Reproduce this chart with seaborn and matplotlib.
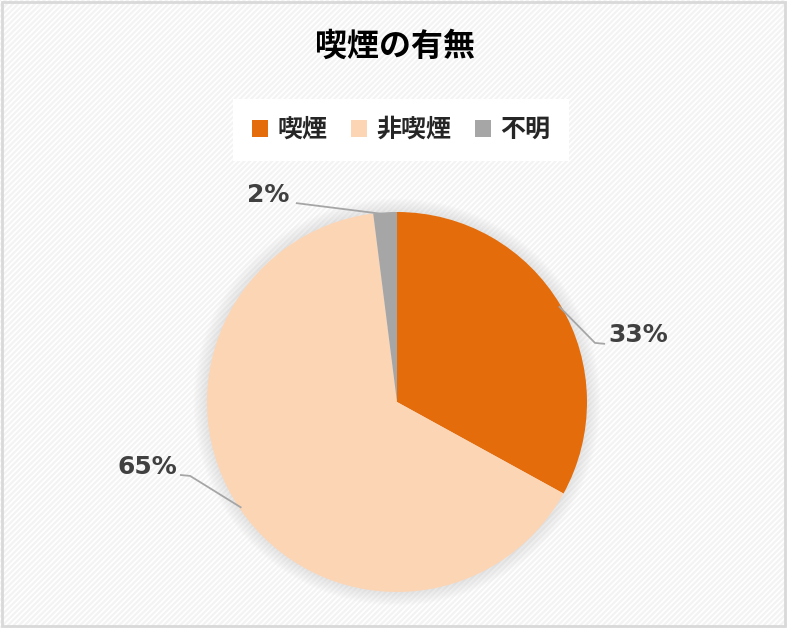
import numpy as np
import matplotlib
matplotlib.use('Agg')
import matplotlib.pyplot as plt
import matplotlib.patches as mpatches
import seaborn as sns

# dane
kategorie = ['喫煙', '非喫煙', '不明']
udzialy = [33, 65, 2]
etykiety = ['33%', '65%', '2%']
kolory = ['#E46C0A', '#FCD5B5', '#A6A6A6']
tytul = '喫煙の有無'

sns.set_theme(style='white')
plt.rcParams['font.family'] = ['Noto Sans CJK JP', 'DejaVu Sans']
plt.rcParams['hatch.linewidth'] = 1.6

W, H = 787, 628
cx, cy, r = 397, 402, 190  # środek i promień koła w pikselach

fig = plt.figure(figsize=(W / 100, H / 100), dpi=100)
fig.patch.set_facecolor('white')

# tło z ukośnym wzorem
bg = mpatches.Rectangle((0, 0), 1, 1, transform=fig.transFigure, facecolor='white',
                        edgecolor='#f3f3f3', hatch='//////', linewidth=0, zorder=-10)
fig.patches.append(bg)
ramka = mpatches.Rectangle((0.002, 0.003), 0.996, 0.994, transform=fig.transFigure,
                           facecolor='none', edgecolor='#d9d9d9', linewidth=2, zorder=10)
fig.patches.append(ramka)

ax = fig.add_axes([0, 0, 1, 1])

# miękki cień wokół koła
for i in range(10):
    ax.add_patch(mpatches.Circle((0, 0), 1.0 + 0.007 * (10 - i), facecolor='#909090',
                                 alpha=0.018, linewidth=0, zorder=0))

wedges, _ = ax.pie(udzialy, colors=kolory, startangle=90, counterclock=False,
                   radius=1, wedgeprops=dict(linewidth=0), center=(0, 0))
for w in wedges:
    w.set_zorder(2)

ax.set_xlim(-cx / r, (W - cx) / r)
ax.set_ylim(-(H - cy) / r, cy / r)
ax.set_aspect('equal')
ax.axis('off')
ax.patch.set_alpha(0)

# pozycje etykiet (tekst, zgięcie linii)
uklad = [
    dict(txt=(1.268, 0.355), bend=(1.042, 0.311), end=(1.095, 0.306)),
    dict(txt=(-1.316, -0.342), bend=(-1.089, -0.389), end=(-1.142, -0.384)),
    dict(txt=(-0.679, 1.087), bend=(-0.532, 1.047), end=(-0.532, 1.047)),
]

for w, lab, u in zip(wedges, etykiety, uklad):
    th = np.deg2rad((w.theta1 + w.theta2) / 2)
    x0, y0 = np.cos(th) * 0.99, np.sin(th) * 0.99
    xs = [x0, u['bend'][0], u['end'][0]]
    ys = [y0, u['bend'][1], u['end'][1]]
    ax.plot(xs, ys, color='#a6a6a6', linewidth=1.3, zorder=3, solid_capstyle='butt')
    ax.text(u['txt'][0], u['txt'][1], lab, ha='center', va='center', fontsize=18,
            fontweight='bold', color='#404040', family='DejaVu Sans', zorder=4)

fig.text(395 / W, 1 - 47 / H, tytul, ha='center', va='center', fontsize=23,
         fontweight='bold', color='black')

uchwyty = [mpatches.Patch(facecolor=k, edgecolor='none') for k in kolory]
leg = fig.legend(uchwyty, kategorie, loc='center', bbox_to_anchor=(401 / W, 1 - 130 / H),
                 ncol=3, frameon=True, fancybox=False, framealpha=1, edgecolor='white',
                 facecolor='white', prop=dict(size=18, weight='bold'),
                 handlelength=0.65, handleheight=0.65, handletextpad=0.35,
                 columnspacing=0.95, borderpad=0.75, borderaxespad=0)
leg.get_frame().set_linewidth(0)

fig.savefig('out.png', dpi=100, facecolor=fig.get_facecolor())
